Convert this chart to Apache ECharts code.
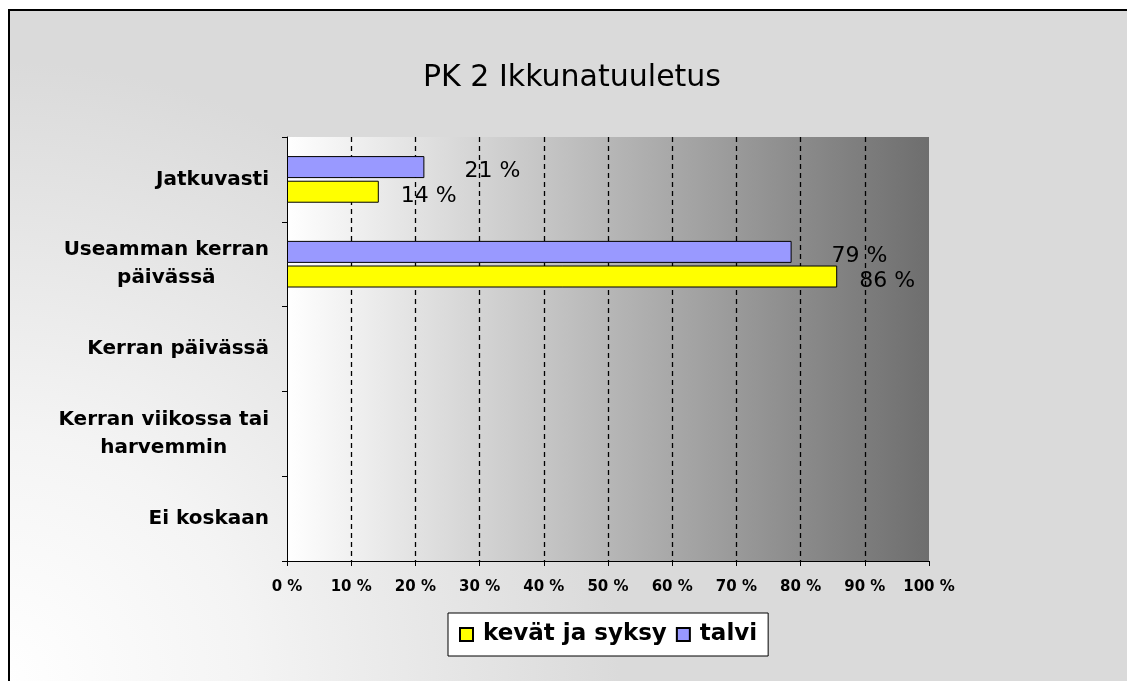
<!DOCTYPE html>
<html>
<head>
<meta charset="utf-8">
<script src="https://cdn.jsdelivr.net/npm/echarts@6/dist/echarts.min.js"></script>
<style>
html,body{margin:0;padding:0;background:#fff;}
#c{width:1127px;height:681px;}
</style>
</head>
<body>
<div id="c"></div>
<script>
var categories = ['Jatkuvasti', 'Useamman kerran\npäivässä', 'Kerran päivässä', 'Kerran viikossa tai\nharvemmin', 'Ei koskaan'];
var kevatJaSyksy = [14.3, 85.7, 0, 0, 0];
var talvi = [21.4, 78.6, 0, 0, 0];
var xTicks = [0, 10, 20, 30, 40, 50, 60, 70, 80, 90, 100];
var seriesNames = ['kevät ja syksy', 'talvi'];

var chart = echarts.init(document.getElementById('c'), null, {renderer: 'canvas'});

function pctLabel(p) {
  return p.value > 0 ? Math.round(p.value) + ' %' : '';
}
function barData(arr) {
  return arr.map(function (v) { return v > 0 ? v : null; });
}

var option = {
  animation: false,
  graphic: [{
    type: 'rect',
    z: -10,
    silent: true,
    shape: {x: 9, y: 10, width: 1200, height: 800},
    style: {
      fill: new echarts.graphic.RadialGradient(0, 681, 620, [
        {offset: 0, color: '#ffffff'},
        {offset: 0.4, color: '#f4f4f4'},
        {offset: 1, color: '#dadada'}
      ], true),
      stroke: '#000',
      lineWidth: 2
    }
  }],
  title: {
    text: 'PK 2 Ikkunatuuletus',
    left: 567,
    textAlign: 'center',
    top: 58,
    textStyle: {fontFamily: 'DejaVu Sans', fontSize: 30, fontWeight: 'normal', color: '#000'}
  },
  legend: {
    data: seriesNames,
    left: 448,
    top: 613,
    orient: 'horizontal',
    backgroundColor: '#fff',
    borderColor: '#000',
    borderWidth: 1,
    padding: [10, 11, 10, 11],
    itemGap: 9,
    itemWidth: 13,
    itemHeight: 13,
    icon: 'rect',
    textStyle: {fontFamily: 'DejaVu Sans', fontSize: 23, fontWeight: 'bold', color: '#000', padding: [0, 0, 0, 5]},
    selectedMode: false
  },
  grid: {
    left: 287, top: 137, width: 642, height: 424,
    show: true,
    borderWidth: 0,
    backgroundColor: new echarts.graphic.LinearGradient(0, 0, 1, 0, [
      {offset: 0, color: '#ffffff'},
      {offset: 1, color: '#6e6e6e'}
    ])
  },
  xAxis: {
    type: 'value',
    min: 0, max: 100, interval: 10,
    axisLine: {show: true, lineStyle: {color: '#000', width: 1}},
    axisTick: {show: true, length: 5, lineStyle: {color: '#000'}},
    axisLabel: {
      formatter: function (v) { return xTicks.indexOf(v) >= 0 ? v + ' %' : ''; },
      fontFamily: 'DejaVu Sans', fontSize: 15, fontWeight: 'bold', color: '#000', margin: 19
    },
    splitLine: {show: true, showMinLine: false, showMaxLine: false, lineStyle: {color: '#000', type: [5, 4], width: 1.3}}
  },
  yAxis: {
    type: 'category',
    data: categories,
    inverse: true,
    axisLine: {show: true, lineStyle: {color: '#000', width: 1}},
    axisTick: {show: true, length: 5, lineStyle: {color: '#000'}},
    axisLabel: {
      margin: 18,
      formatter: function (v) {
        return v.split('\n').map(function (l) { return '{a|' + l + '}'; }).join('\n');
      },
      rich: {a: {align: 'center', fontFamily: 'DejaVu Sans', fontSize: 20, fontWeight: 'bold', color: '#000', lineHeight: 28}}
    },
    splitLine: {show: false}
  },
  series: [{
    name: seriesNames[1],
    type: 'bar',
    data: barData(talvi),
    barWidth: 22,
    barGap: '12%',
    itemStyle: {color: '#9999ff', borderColor: '#000', borderWidth: 1},
    label: {show: true, position: 'right', distance: 40, offset: [0, 4], formatter: pctLabel,
      fontFamily: 'DejaVu Sans', fontSize: 22, color: '#000'}
  }, {
    name: seriesNames[0],
    type: 'bar',
    data: barData(kevatJaSyksy),
    barWidth: 22,
    barGap: '12%',
    itemStyle: {color: '#ffff00', borderColor: '#000', borderWidth: 1},
    label: {show: true, position: 'right', distance: 22, offset: [0, 5], formatter: pctLabel,
      fontFamily: 'DejaVu Sans', fontSize: 22, color: '#000'}
  }]
};
chart.setOption(option);
</script>
</body>
</html>
